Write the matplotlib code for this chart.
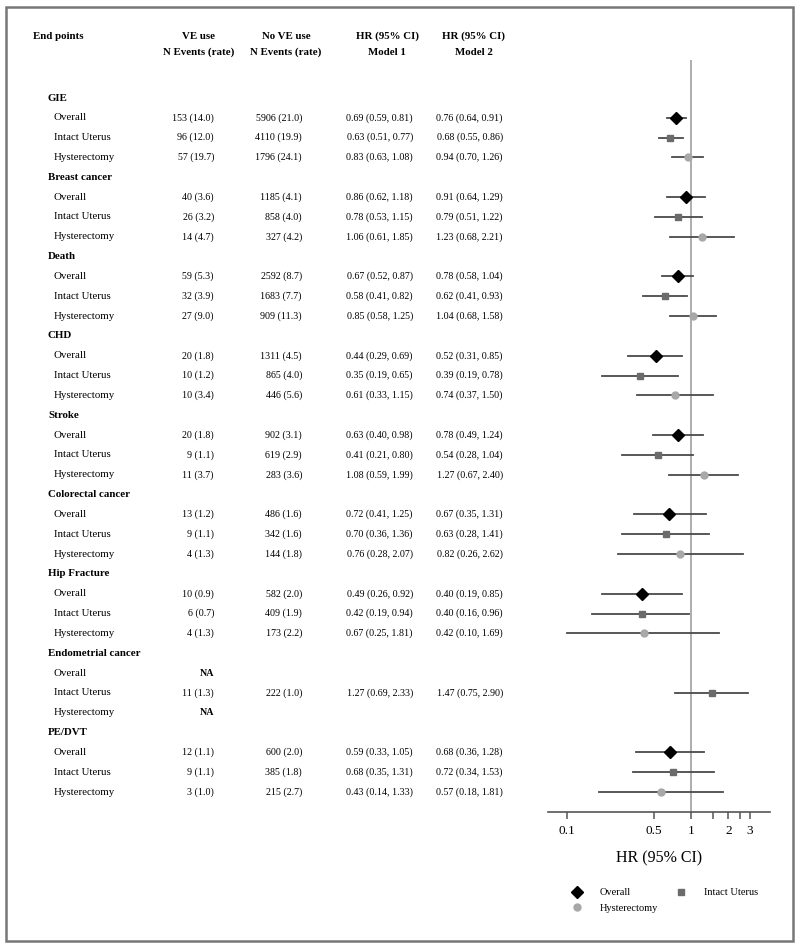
import numpy as np
import matplotlib
matplotlib.use('Agg')
import matplotlib.pyplot as plt
from matplotlib.lines import Line2D
from matplotlib.patches import Rectangle

plt.rcParams['font.family'] = ['Liberation Serif', 'DejaVu Serif']

groups = ['GIE', 'Breast cancer', 'Death', 'CHD', 'Stroke', 'Colorectal cancer',
          'Hip Fracture', 'Endometrial cancer', 'PE/DVT']
subgroups = ['Overall', 'Intact Uterus', 'Hysterectomy']

ve_use = ['153 (14.0)', '96 (12.0)', '57 (19.7)',
          '40 (3.6)', '26 (3.2)', '14 (4.7)',
          '59 (5.3)', '32 (3.9)', '27 (9.0)',
          '20 (1.8)', '10 (1.2)', '10 (3.4)',
          '20 (1.8)', '9 (1.1)', '11 (3.7)',
          '13 (1.2)', '9 (1.1)', '4 (1.3)',
          '10 (0.9)', '6 (0.7)', '4 (1.3)',
          'NA', '11 (1.3)', 'NA',
          '12 (1.1)', '9 (1.1)', '3 (1.0)']
no_ve_use = ['5906 (21.0)', '4110 (19.9)', '1796 (24.1)',
             '1185 (4.1)', '858 (4.0)', '327 (4.2)',
             '2592 (8.7)', '1683 (7.7)', '909 (11.3)',
             '1311 (4.5)', '865 (4.0)', '446 (5.6)',
             '902 (3.1)', '619 (2.9)', '283 (3.6)',
             '486 (1.6)', '342 (1.6)', '144 (1.8)',
             '582 (2.0)', '409 (1.9)', '173 (2.2)',
             '', '222 (1.0)', '',
             '600 (2.0)', '385 (1.8)', '215 (2.7)']

nan = np.nan
m1_hr = [0.69, 0.63, 0.83, 0.86, 0.78, 1.06, 0.67, 0.58, 0.85, 0.44, 0.35, 0.61,
         0.63, 0.41, 1.08, 0.72, 0.70, 0.76, 0.49, 0.42, 0.67, nan, 1.27, nan,
         0.59, 0.68, 0.43]
m1_lo = [0.59, 0.51, 0.63, 0.62, 0.53, 0.61, 0.52, 0.41, 0.58, 0.29, 0.19, 0.33,
         0.40, 0.21, 0.59, 0.41, 0.36, 0.28, 0.26, 0.19, 0.25, nan, 0.69, nan,
         0.33, 0.35, 0.14]
m1_hi = [0.81, 0.77, 1.08, 1.18, 1.15, 1.85, 0.87, 0.82, 1.25, 0.69, 0.65, 1.15,
         0.98, 0.80, 1.99, 1.25, 1.36, 2.07, 0.92, 0.94, 1.81, nan, 2.33, nan,
         1.05, 1.31, 1.33]
m2_hr = [0.76, 0.68, 0.94, 0.91, 0.79, 1.23, 0.78, 0.62, 1.04, 0.52, 0.39, 0.74,
         0.78, 0.54, 1.27, 0.67, 0.63, 0.82, 0.40, 0.40, 0.42, nan, 1.47, nan,
         0.68, 0.72, 0.57]
m2_lo = [0.64, 0.55, 0.70, 0.64, 0.51, 0.68, 0.58, 0.41, 0.68, 0.31, 0.19, 0.37,
         0.49, 0.28, 0.67, 0.35, 0.28, 0.26, 0.19, 0.16, 0.10, nan, 0.75, nan,
         0.36, 0.34, 0.18]
m2_hi = [0.91, 0.86, 1.26, 1.29, 1.22, 2.21, 1.04, 0.93, 1.58, 0.85, 0.78, 1.50,
         1.24, 1.04, 2.40, 1.31, 1.41, 2.62, 0.85, 0.96, 1.69, nan, 2.90, nan,
         1.28, 1.53, 1.81]

ticks = [0.1, 0.5, 1, 1.5, 2, 2.5, 3]
tick_labels = ['0.1', '0.5', '1', '', '2', '', '3']

styles = {'Overall': dict(marker='D', color='black', ms=6.5),
          'Intact Uterus': dict(marker='s', color='#6b6b6b', ms=5),
          'Hysterectomy': dict(marker='o', color='#a8a8a8', ms=5)}
line_col = '#4a4a4a'

W, H = 800, 948
y0, dy = 98, 19.83
fs = 7.8

fig = plt.figure(figsize=(W / 100, H / 100), dpi=100)
tx = fig.add_axes([0, 0, 1, 1])
tx.set_xlim(0, W)
tx.set_ylim(H, 0)
tx.axis('off')

fig.add_artist(Rectangle((6 / W, 1 - 941 / H), 787 / W, 934 / H, transform=fig.transFigure,
                         fill=False, edgecolor='#777777', lw=1.8))

# header
tx.text(33, 36, 'End points', fontsize=fs, fontweight='bold', va='center')
for xc, l1, l2 in [(199, 'VE use', 'N Events (rate)'), (286, 'No VE use', 'N Events (rate)'),
                   (387, 'HR (95% CI)', 'Model 1'), (474, 'HR (95% CI)', 'Model 2')]:
    tx.text(xc, 36, l1, fontsize=fs, fontweight='bold', ha='center', va='center')
    tx.text(xc, 52, l2, fontsize=fs, fontweight='bold', ha='center', va='center')

# forest axes
top_px, bot_px = 60, 812
fx = fig.add_axes([548 / W, 1 - bot_px / H, 222 / W, (bot_px - top_px) / H])
fx.set_xscale('log')
fx.set_xlim(0.0703, 4.34)
fx.set_ylim((bot_px - y0) / dy, (top_px - y0) / dy)
for s in ['top', 'right', 'left']:
    fx.spines[s].set_visible(False)
fx.spines['bottom'].set_color('#555555')
fx.spines['bottom'].set_linewidth(1.2)
fx.set_yticks([])
fx.set_xticks(ticks)
fx.set_xticklabels(tick_labels, fontsize=9.5)
fx.minorticks_off()
fx.tick_params(axis='x', length=5, width=1.1, color='#555555', pad=4)
fx.set_xlabel('HR (95% CI)', fontsize=11.5, labelpad=10)
fx.axvline(1, color='#a0a0a0', lw=1.2, zorder=1)
fx.patch.set_alpha(0)

for g, name in enumerate(groups):
    row = g * 4
    tx.text(48, y0 + row * dy, name, fontsize=fs, fontweight='bold', va='center')
    for s, sub in enumerate(subgroups):
        i = g * 3 + s
        r = row + 1 + s
        y = y0 + r * dy
        tx.text(54, y, sub, fontsize=fs, va='center')
        tx.text(214, y, ve_use[i], fontsize=fs - 0.6, ha='right', va='center',
                fontweight='bold' if ve_use[i] == 'NA' else 'normal')
        tx.text(302, y, no_ve_use[i], fontsize=fs - 0.6, ha='right', va='center')
        if not np.isnan(m1_hr[i]):
            tx.text(413, y, f'{m1_hr[i]:.2f} ({m1_lo[i]:.2f}, {m1_hi[i]:.2f})',
                    fontsize=fs - 0.6, ha='right', va='center')
            tx.text(503, y, f'{m2_hr[i]:.2f} ({m2_lo[i]:.2f}, {m2_hi[i]:.2f})',
                    fontsize=fs - 0.6, ha='right', va='center')
        if not np.isnan(m2_hr[i]):
            st = styles[sub]
            fx.plot([m2_lo[i], m2_hi[i]], [r, r], color=line_col, lw=1.3, zorder=2)
            fx.plot(m2_hr[i], r, marker=st['marker'], color=st['color'], ms=st['ms'],
                    ls='none', zorder=3)

handles = [Line2D([], [], ls='none', marker=styles[k]['marker'], color=styles[k]['color'],
                  ms=styles[k]['ms'], label=k) for k in ['Overall', 'Hysterectomy', 'Intact Uterus']]
fig.legend(handles=handles, ncol=2, loc='upper left', bbox_to_anchor=(562 / W, 1 - 884 / H),
           frameon=False, fontsize=7.5, handletextpad=1.2, columnspacing=1.2,
           labelspacing=0.6, borderaxespad=0)

fig.savefig('out.png', dpi=100)
